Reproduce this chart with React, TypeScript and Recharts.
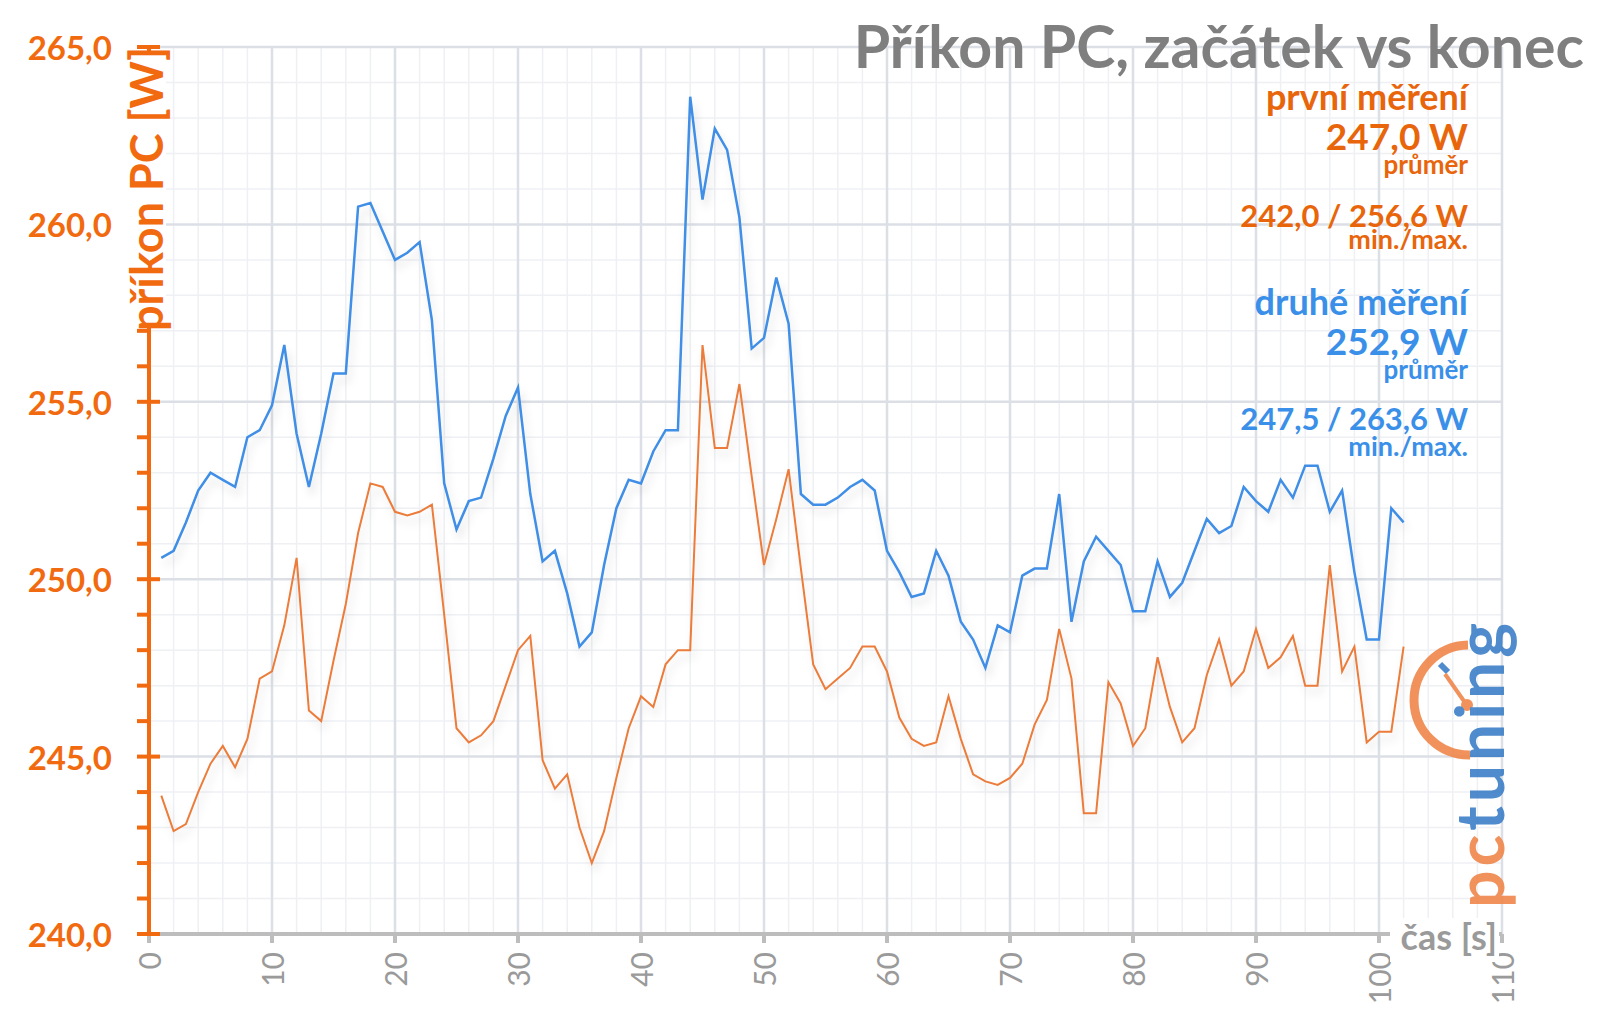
import { LineChart, Line, XAxis, YAxis, CartesianGrid } from "recharts"

// první měření (orange), one value per second, 1..102 s
const first = [
	243.9, 242.9, 243.1, 244.0, 244.8, 245.3, 244.7, 245.5, 247.2, 247.4,
	248.7, 250.6, 246.3, 246.0, 247.7, 249.3, 251.3, 252.7, 252.6, 251.9,
	251.8, 251.9, 252.1, 249.0, 245.8, 245.4, 245.6, 246.0, 247.0, 248.0,
	248.4, 244.9, 244.1, 244.5, 243.0, 242.0, 242.9, 244.4, 245.8, 246.7,
	246.4, 247.6, 248.0, 248.0, 256.6, 253.7, 253.7, 255.5, 252.9, 250.4,
	251.7, 253.1, 250.3, 247.6, 246.9, 247.2, 247.5, 248.1, 248.1, 247.4,
	246.1, 245.5, 245.3, 245.4, 246.7, 245.5, 244.5, 244.3, 244.2, 244.4,
	244.8, 245.9, 246.6, 248.6, 247.2, 243.4, 243.4, 247.1, 246.5, 245.3,
	245.8, 247.8, 246.4, 245.4, 245.8, 247.3, 248.3, 247.0, 247.4, 248.6,
	247.5, 247.8, 248.4, 247.0, 247.0, 250.4, 247.4, 248.1, 245.4, 245.7,
	245.7, 248.1,
]

// druhé měření (blue)
const second = [
	250.6, 250.8, 251.6, 252.5, 253.0, 252.8, 252.6, 254.0, 254.2, 254.9,
	256.6, 254.1, 252.6, 254.1, 255.8, 255.8, 260.5, 260.6, 259.8, 259.0,
	259.2, 259.5, 257.3, 252.7, 251.4, 252.2, 252.3, 253.4, 254.6, 255.4,
	252.4, 250.5, 250.8, 249.6, 248.1, 248.5, 250.4, 252.0, 252.8, 252.7,
	253.6, 254.2, 254.2, 263.6, 260.7, 262.7, 262.1, 260.2, 256.5, 256.8,
	258.5, 257.2, 252.4, 252.1, 252.1, 252.3, 252.6, 252.8, 252.5, 250.8,
	250.2, 249.5, 249.6, 250.8, 250.1, 248.8, 248.3, 247.5, 248.7, 248.5,
	250.1, 250.3, 250.3, 252.4, 248.8, 250.5, 251.2, 250.8, 250.4, 249.1,
	249.1, 250.5, 249.5, 249.9, 250.8, 251.7, 251.3, 251.5, 252.6, 252.2,
	251.9, 252.8, 252.3, 253.2, 253.2, 251.9, 252.5, 250.2, 248.3, 248.3,
	252.0, 251.6,
]

const seconds = first.map((_, i) => i + 1)

const xTicks = [0, 10, 20, 30, 40, 50, 60, 70, 80, 90, 100, 110]
const yLabelTicks = [240, 245, 250, 255, 260, 265]
const yAllTicks = [
	240, 241, 242, 243, 244, 245, 246, 247, 248, 249, 250, 251, 252,
	253, 254, 255, 256, 257, 258, 259, 260, 261, 262, 263, 264, 265,
]
const xGridMinor = Array.from({ length: 56 }, (_, i) => i * 2)

const X_MIN = 0
const X_MAX = 110
const Y_MIN = 240
const Y_MAX = 265

const data = seconds.map((t, i) => ({ t, first: first[i], second: second[i] }))

const AXIS_ORANGE = "#F26A10"
const TEXT_ORANGE = "#E8650C"
const LINE_ORANGE = "#EC7C3A"
const BLUE_TEXT = "#3A8FE8"
const LINE_BLUE = "#3F8EE6"
const GRAY = "#9A9A9A"
const FONT = "Lato, 'Open Sans', sans-serif"

const fmt = (v: number) => v.toFixed(1).replace(".", ",")

const YTick = ({ x, y, payload }: any) => {
	const major = yLabelTicks.includes(payload.value)
	return (
		<g>
			<line
				x1={x - 12}
				x2={major ? x + 11 : x}
				y1={y}
				y2={y}
				stroke={AXIS_ORANGE}
				strokeWidth={4}
			/>
			{major && (
				<text
					x={x - 37}
					y={y}
					textAnchor="end"
					dominantBaseline="central"
					fontFamily={FONT}
					fontWeight={700}
					fontSize={33}
					fill={AXIS_ORANGE}
				>
					{fmt(payload.value)}
				</text>
			)}
		</g>
	)
}

const XTick = ({ x, y, payload }: any) => (
	<g>
		<line x1={x} x2={x} y1={y - 8} y2={y + 1} stroke="#BDBDBD" strokeWidth={4} />
		<text
			x={x}
			y={y + 10}
			transform={`rotate(-90 ${x} ${y + 10})`}
			textAnchor="end"
			dominantBaseline="central"
			fontFamily={FONT}
			fontSize={30}
			fill={GRAY}
		>
			{payload.value}
		</text>
	</g>
)

// grid line positions go through the axis scale when the chart provides one
const xGen = (values: number[]) => (props: any) => {
	const { xAxis, offset } = props
	return values.map((v) =>
		typeof xAxis?.scale === "function"
			? xAxis.scale(v)
			: offset.left + ((v - X_MIN) / (X_MAX - X_MIN)) * offset.width
	)
}
const yGen = (values: number[]) => (props: any) => {
	const { yAxis, offset } = props
	return values.map((v) =>
		typeof yAxis?.scale === "function"
			? yAxis.scale(v)
			: offset.top + ((Y_MAX - v) / (Y_MAX - Y_MIN)) * offset.height
	)
}

const Note = ({ y, size, color, children }: any) => (
	<text
		x={1468}
		y={y}
		textAnchor="end"
		fontFamily={FONT}
		fontWeight={700}
		fontSize={size}
		fill={color}
	>
		{children}
	</text>
)

const App = () => (
	<div
		style={{
			position: "absolute",
			left: 0,
			top: 0,
			width: 1600,
			height: 1017,
			background: "#fff",
		}}
	>
		<style>{`.recharts-line-curve { filter: url(#lineShadow); }`}</style>
		<LineChart
			width={1600}
			height={1017}
			data={data}
			margin={{ top: 47, right: 98, bottom: 0, left: 0 }}
		>
			<CartesianGrid
				stroke="#EEF0F4"
				strokeWidth={1.5}
				verticalCoordinatesGenerator={xGen(xGridMinor)}
				horizontalCoordinatesGenerator={yGen(yAllTicks)}
			/>
			<CartesianGrid
				stroke="#DCE0E6"
				strokeWidth={2.5}
				verticalCoordinatesGenerator={xGen(xTicks)}
				horizontalCoordinatesGenerator={yGen(yLabelTicks)}
			/>
			<XAxis
				dataKey="t"
				type="number"
				domain={[X_MIN, X_MAX]}
				ticks={xTicks}
				interval={0}
				height={83}
				tickSize={8}
				tickMargin={0}
				tickLine={false}
				tick={<XTick />}
				axisLine={{ stroke: "#BDBDBD", strokeWidth: 4 }}
			/>
			<YAxis
				type="number"
				domain={[Y_MIN, Y_MAX]}
				ticks={yAllTicks}
				interval={0}
				width={149}
				tickSize={0}
				tickMargin={0}
				tickLine={false}
				tick={<YTick />}
				axisLine={{ stroke: AXIS_ORANGE, strokeWidth: 4 }}
			/>
			<Line
				dataKey="second"
				type="linear"
				stroke={LINE_BLUE}
				strokeWidth={2.5}
				dot={false}
				activeDot={false}
				isAnimationActive={false}
			/>
			<Line
				dataKey="first"
				type="linear"
				stroke={LINE_ORANGE}
				strokeWidth={2}
				dot={false}
				activeDot={false}
				isAnimationActive={false}
			/>
		</LineChart>
		<svg
			width={1600}
			height={1017}
			style={{ position: "absolute", left: 0, top: 0, pointerEvents: "none" }}
		>
			<defs>
				<filter id="lineShadow" x="-5%" y="-10%" width="110%" height="130%">
					<feDropShadow dx="3" dy="7" stdDeviation="4" floodColor="#000" floodOpacity="0.12" />
				</filter>
			</defs>
			<text
				x={1584}
				y={68}
				textAnchor="end"
				fontFamily={FONT}
				fontWeight={700}
				fontSize={59}
				fill="#7F7F7F"
			>
				Příkon PC, začátek vs konec
			</text>

			<Note y={110} size={36} color={TEXT_ORANGE}>první měření</Note>
			<Note y={150} size={37} color={TEXT_ORANGE}>247,0 W</Note>
			<Note y={174} size={26} color={TEXT_ORANGE}>průměr</Note>
			<Note y={227} size={31} color={TEXT_ORANGE}>242,0 / 256,6 W</Note>
			<Note y={249} size={27} color={TEXT_ORANGE}>min./max.</Note>

			<Note y={315} size={36} color={BLUE_TEXT}>druhé měření</Note>
			<Note y={355} size={37} color={BLUE_TEXT}>252,9 W</Note>
			<Note y={379} size={26} color={BLUE_TEXT}>průměr</Note>
			<Note y={430} size={31} color={BLUE_TEXT}>247,5 / 263,6 W</Note>
			<Note y={456} size={27} color={BLUE_TEXT}>min./max.</Note>

			<rect x={126} y={51} width={40} height={276} fill="#fff" />
			<text
				x={163}
				y={189}
				transform="rotate(-90 163 189)"
				textAnchor="middle"
				fontFamily={FONT}
				fontWeight={700}
				fontSize={45}
				fill={AXIS_ORANGE}
			>
				příkon PC [W]
			</text>

			<rect x={1390} y={918} width={109} height={44} fill="#fff" />
			<text
				x={1497}
				y={950}
				textAnchor="end"
				fontFamily={FONT}
				fontWeight={700}
				fontSize={36}
				fill={GRAY}
			>
				čas [s]
			</text>

			<g opacity={0.9}>
				<path
					d="M 1468 645 A 55 55 0 0 0 1470 755"
					fill="none"
					stroke="#F0864A"
					strokeWidth={9}
				/>
				<line x1={1440} y1={664} x2={1448} y2={672} stroke="#3C7FC8" strokeWidth={6} />
				<line x1={1445} y1={674} x2={1466} y2={704} stroke="#F0864A" strokeWidth={4} />
				<circle cx={1467} cy={705} r={6} fill="#F0864A" />
				<text
					x={1504}
					y={908}
					transform="rotate(-90 1504 908)"
					textAnchor="start"
					fontFamily={FONT}
					fontWeight={700}
					fontSize={66}
					letterSpacing={4}
				>
					<tspan fill="#F0864A">pc</tspan>
					<tspan fill="#3C7FC8">tuning</tspan>
				</text>
			</g>
		</svg>
	</div>
)

export default App
